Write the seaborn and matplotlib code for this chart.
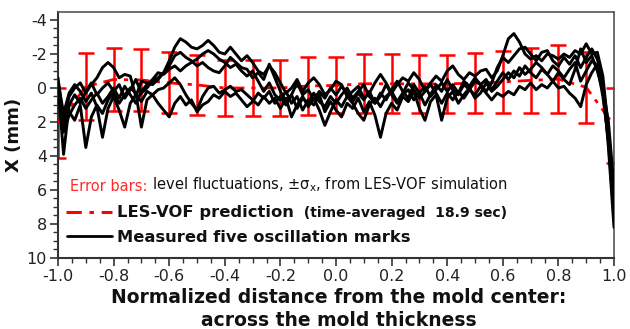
import numpy as np
import pandas as pd
import matplotlib
matplotlib.use("Agg")
import matplotlib.pyplot as plt
import seaborn as sns
from matplotlib.ticker import MultipleLocator
from matplotlib.lines import Line2D

# ---------------- data ----------------
x_pos = [-1.00, -0.98, -0.96, -0.94, -0.92, -0.90, -0.88, -0.86, -0.84, -0.82,
         -0.80, -0.78, -0.76, -0.74, -0.72, -0.70, -0.68, -0.66, -0.64, -0.62,
         -0.60, -0.58, -0.56, -0.54, -0.52, -0.50, -0.48, -0.46, -0.44, -0.42,
         -0.40, -0.38, -0.36, -0.34, -0.32, -0.30, -0.28, -0.26, -0.24, -0.22,
         -0.20, -0.18, -0.16, -0.14, -0.12, -0.10, -0.08, -0.06, -0.04, -0.02,
         0.00, 0.02, 0.04, 0.06, 0.08, 0.10, 0.12, 0.14, 0.16, 0.18,
         0.20, 0.22, 0.24, 0.26, 0.28, 0.30, 0.32, 0.34, 0.36, 0.38,
         0.40, 0.42, 0.44, 0.46, 0.48, 0.50, 0.52, 0.54, 0.56, 0.58,
         0.60, 0.62, 0.64, 0.66, 0.68, 0.70, 0.72, 0.74, 0.76, 0.78,
         0.80, 0.82, 0.84, 0.86, 0.88, 0.90, 0.92, 0.94, 0.96, 0.98, 1.00]

mark_1 = [-0.6, 2.0, 0.5, 0.0, -0.3, 0.3, -0.2, -0.6, -1.2, -1.5,
          -1.2, -0.6, -0.8, -0.7, 0.5, -0.4, -0.3, -0.2, -0.5, -0.9,
          -1.6, -2.4, -2.9, -2.7, -2.4, -2.3, -2.5, -2.8, -2.5, -2.1,
          -2.0, -2.4, -2.0, -1.6, -1.9, -1.5, -1.0, -0.8, -1.3, -0.9,
          -0.3, 0.3, 0.0, -0.5, 0.2, -0.3, -0.6, -0.2, 0.4, 0.1,
          -0.4, -0.2, 0.5, 0.2, -0.1, 0.6, 0.3, -0.3, -0.8, -0.3,
          0.3, -0.2, -0.6, -0.4, -0.9, -0.5, 0.2, -0.3, -0.7, -0.4,
          -1.0, -1.3, -0.8, -0.5, -0.9, -0.7, -1.0, -1.1, -0.6, -1.0,
          -1.9, -2.9, -3.2, -2.7, -2.0, -1.7, -1.9, -1.6, -2.0, -1.9,
          -1.7, -2.0, -1.8, -2.2, -2.0, -2.6, -2.0, -2.1, -0.7, 2.5, 7.2]

mark_2 = [-0.2, 3.9, 1.0, 0.4, 0.9, 0.2, -0.3, 0.4, 0.0, -0.3,
          0.2, -0.2, 0.6, 0.1, -0.5, 0.3, 0.0, -0.4, -0.6, -0.9,
          -1.3, -1.9, -2.1, -1.8, -1.6, -1.3, -1.5, -1.2, -1.0, -0.9,
          -1.3, -1.8, -1.5, -1.2, -1.1, -0.6, -0.9, -0.5, -1.4, -0.6,
          0.2, 0.8, 0.4, 1.2, 0.6, 0.9, 0.3, 0.8, 1.1, 0.5,
          0.9, 0.4, 0.0, 0.6, 0.2, -0.2, 0.5, 0.9, 0.3, 0.7,
          0.1, -0.4, 0.2, 0.6, -0.2, 0.3, 1.0, 0.4, -0.2, 0.2,
          -0.5, 0.1, 0.4, -0.2, 0.1, -0.4, -0.2, 0.2, -0.3, -1.2,
          -1.8, -1.5, -1.9, -2.3, -2.4, -2.0, -1.6, -2.1, -2.2, -1.6,
          -1.3, -1.8, -1.4, -1.9, -1.2, -1.8, -2.3, -1.7, -0.3, 3.5, 8.2]

mark_3 = [0.1, 2.6, 1.6, 1.0, 0.6, 1.2, 0.7, 0.3, 0.9, 0.5,
          0.0, 0.6, -0.1, 0.4, 0.9, 0.2, -0.2, -0.5, -0.9, -0.8,
          -1.1, -1.3, -1.0, -1.3, -1.5, -1.7, -2.0, -2.2, -2.0, -1.7,
          -1.5, -1.2, -1.4, -1.0, -0.7, -1.0, -0.4, 0.2, -0.3, 0.4,
          0.7, 0.2, 0.9, 0.5, 1.3, 0.7, 1.0, 0.4, 1.4, 0.8,
          1.3, 1.7, 0.9, 1.2, 0.6, 1.4, 0.8, 1.6, 2.9, 1.5,
          0.9, 1.3, 0.5, 0.8, 0.2, 1.2, 1.9, 0.8, 0.4, 1.9,
          0.6, 0.2, 0.9, 0.4, 0.0, 0.6, 0.3, -0.3, 0.2, -0.1,
          -0.5, -0.9, -0.6, -1.2, -0.8, -1.1, -1.5, -1.2, -0.8, -1.3,
          -1.0, -0.6, -1.1, -1.5, -0.4, -1.0, -1.6, -1.3, 0.5, 3.0, 6.3]

mark_4 = [-0.4, 1.5, 0.3, -0.2, 0.2, 0.8, 0.3, 1.1, 2.9, 1.2,
          0.5, 1.3, 2.3, 0.9, 0.4, 0.8, 0.2, 0.4, 0.1, 0.0,
          -0.3, -0.6, -0.2, 0.4, 0.9, 1.3, 0.5, 0.0, -0.1, 0.3,
          0.1, -0.1, 0.2, 0.1, 0.4, 0.7, 1.0, 0.5, 0.9, 0.6,
          1.2, 0.6, 1.7, 1.0, 0.5, 1.1, 0.6, 1.3, 2.2, 1.4,
          0.7, 1.1, 0.5, 0.9, 1.5, 1.9, 1.0, 0.6, 1.1, 0.5,
          0.2, 0.8, 0.3, -0.3, 0.1, 0.6, 0.2, -0.2, 0.3, 0.9,
          0.3, 0.7, 0.2, 0.6, 0.1, 0.4, -0.1, 0.3, 0.7, 0.3,
          0.5, 0.2, 0.4, -0.1, 0.1, -0.3, 0.1, -0.2, 0.0, -0.4,
          0.0, -0.1, 0.3, 0.6, 1.1, -0.2, -0.9, -1.4, 0.0, 2.0, 5.8]

mark_5 = [0.3, 2.2, 1.4, 1.9, 1.0, 3.5, 1.7, 1.0, 1.5, 0.7,
          0.3, 0.9, 0.4, 0.0, 0.3, 2.3, 0.7, 0.4, 0.9, 1.3,
          1.7, 0.9, 0.5, 1.0, 0.7, 1.4, 1.0, 0.8, 0.4, 0.6,
          0.2, 0.5, 0.3, 0.7, 1.1, 0.8, 0.3, 0.6, 0.2, 0.9,
          0.5, 1.0, 0.4, -0.3, 0.4, 0.1, 0.7, 0.2, 0.6, 0.0,
          0.4, -0.1, 0.3, 0.8, 0.3, 0.7, 0.2, 0.9, 0.5, -0.2,
          0.4, 0.9, 0.4, 0.1, 0.7, 0.3, -0.1, 0.5, 0.1, -0.3,
          0.2, -0.2, 0.3, -0.4, -0.1, -0.6, -0.2, -0.5, 0.1, -0.4,
          -0.9, -0.5, -1.0, -0.7, -1.3, -0.9, -0.6, -1.1, -0.8, -0.4,
          -0.9, -0.5, -0.2, -1.1, -2.3, -1.5, -1.9, -1.0, 0.2, 3.2, 7.6]

err_x = [-1.0, -0.9, -0.8, -0.7, -0.6, -0.5, -0.4, -0.3, -0.2, -0.1, 0.0,
         0.1, 0.2, 0.3, 0.4, 0.5, 0.6, 0.7, 0.8, 0.9, 1.0]
pred_y = [2.05, -0.08, -0.50, -0.47, -0.30, -0.18, 0.00, 0.00, 0.00, -0.12, -0.15,
          -0.25, -0.25, -0.24, -0.24, -0.29, -0.35, -0.45, -0.52, -0.04, 2.20]
sigma_x = [2.05, 1.98, 1.86, 1.83, 1.80, 1.76, 1.64, 1.64, 1.64, 1.68, 1.65,
           1.75, 1.75, 1.70, 1.70, 1.76, 1.82, 1.92, 2.02, 2.10, 2.20]

x_ticks = [-1.0, -0.8, -0.6, -0.4, -0.2, 0.0, 0.2, 0.4, 0.6, 0.8, 1.0]
y_ticks = [-4, -2, 0, 2, 4, 6, 8, 10]

# ---------------- style ----------------
sns.set_theme(style="ticks")
plt.rcParams["font.family"] = ["DejaVu Sans"]
plt.rcParams["axes.unicode_minus"] = False
plt.rcParams["mathtext.default"] = "regular"

W, H = 630, 329
fig = plt.figure(figsize=(W / 100, H / 100), dpi=100)
ax = fig.add_axes([58 / W, 1 - 258 / H, (614 - 58) / W, (258 - 12) / H])

def fx(px):
    return px / W

def fy(py):
    return 1 - py / H

# error bars + prediction
ax.errorbar(err_x, pred_y, yerr=sigma_x, fmt="none", ecolor="#ff0000",
            elinewidth=1.8, capsize=6, capthick=1.8, zorder=2)
sns.lineplot(x=err_x, y=pred_y, color="#ff0000", lw=2.0, ax=ax,
             linestyle=(0, (5, 2.5, 1.5, 2.5)), zorder=3, legend=False)

# measured marks
marks = [mark_1, mark_2, mark_3, mark_4, mark_5]
df = pd.DataFrame({
    "x": np.concatenate([x_pos] * len(marks)),
    "y": np.concatenate(marks),
    "mark": np.repeat(np.arange(len(marks)), len(x_pos)),
})
sns.lineplot(data=df, x="x", y="y", units="mark", estimator=None,
             color="black", lw=2.1, sort=False, ax=ax, legend=False, zorder=4)

ax.set_xlim(-1.0, 1.0)
ax.set_ylim(10, -4.47)
ax.set_xticks(x_ticks)
ax.set_xticklabels([f"{v:.1f}" for v in x_ticks])
ax.set_yticks(y_ticks)
ax.set_yticklabels([str(v) for v in y_ticks])
ax.xaxis.set_minor_locator(MultipleLocator(0.05))
ax.yaxis.set_minor_locator(MultipleLocator(0.5))
ax.tick_params(which="major", direction="out", length=6, width=1.2,
               labelsize=11.5, color="#333333", labelcolor="#222222", pad=2)
ax.tick_params(which="minor", direction="out", length=3.5, width=1.0, color="#333333")
ax.tick_params(axis="x", pad=2)
for s in ["left", "bottom"]:
    ax.spines[s].set_color("#333333")
    ax.spines[s].set_linewidth(1.5)
for s in ["top", "right"]:
    ax.spines[s].set_color("#555555")
    ax.spines[s].set_linewidth(1.2)

ax.set_xlabel("")
ax.set_ylabel("")
fig.text(fx(14), fy(135), "X (mm)", rotation=90, ha="center", va="center",
         fontsize=13, fontweight="bold", color="#111111")
fig.text(fx(339), fy(303), "Normalized distance from the mold center:",
         ha="center", va="baseline", fontsize=13.5, fontweight="bold", color="#111111")
fig.text(fx(339), fy(326), "across the mold thickness",
         ha="center", va="baseline", fontsize=13.5, fontweight="bold", color="#111111")

# legend-like annotations
t1 = fig.text(fx(70), fy(191), "Error bars:", ha="left", va="baseline",
              fontsize=10.5, color="#ff2a2a")
ax.annotate(" level fluctuations, \u00b1$\u03c3_x$, from LES-VOF simulation",
            xy=(1, 0), xycoords=t1, ha="left", va="bottom",
            fontsize=10.5, color="#111111")

fig.add_artist(Line2D([fx(66), fx(112)], [fy(212), fy(212)], color="#ff0000",
                      lw=2.2, linestyle=(0, (5, 2.5, 1.5, 2.5))))
t2 = fig.text(fx(117), fy(217), "LES-VOF prediction", ha="left", va="baseline",
              fontsize=11.8, fontweight="bold", color="#111111")
ax.annotate("  (time-averaged  18.9 sec)", xy=(1, 0.5), xycoords=t2,
            ha="left", va="center", fontsize=10.1, fontweight="bold", color="#111111")

fig.add_artist(Line2D([fx(67), fx(112)], [fy(236), fy(236)], color="black", lw=2.0))
fig.text(fx(117), fy(242), "Measured five oscillation marks", ha="left", va="baseline",
         fontsize=11.7, fontweight="bold", color="#111111")

fig.savefig("out.png", dpi=100)
